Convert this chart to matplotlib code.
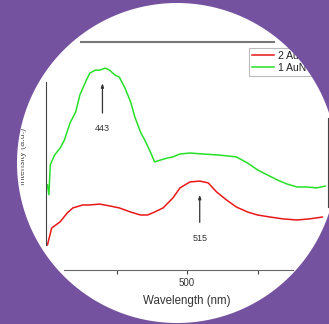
import numpy as np
import matplotlib
matplotlib.use("Agg")
import matplotlib.pyplot as plt
from matplotlib.path import Path
from matplotlib.patches import PathPatch
from matplotlib.transforms import Bbox, TransformedBbox

plt.rcParams['font.family'] = ['Liberation Sans', 'DejaVu Sans']

# spectra (wavelength in nm, intensity in a.u.)
green_nm = [401, 402, 403, 406, 410, 413, 417, 421, 424, 428, 431, 435, 438,
            442, 445, 449, 452, 456, 460, 463, 467, 470, 474, 477, 481, 486,
            490, 495, 502, 511, 523, 535, 543, 550, 557, 564, 571, 578, 585,
            592, 598]
green_int = [0.373, 0.330, 0.461, 0.504, 0.535, 0.570, 0.645, 0.693, 0.768,
             0.825, 0.864, 0.877, 0.877, 0.886, 0.877, 0.855, 0.846, 0.798,
             0.737, 0.671, 0.605, 0.570, 0.518, 0.474, 0.482, 0.491, 0.496,
             0.509, 0.513, 0.509, 0.504, 0.496, 0.469, 0.439, 0.417, 0.395,
             0.377, 0.364, 0.364, 0.360, 0.368]

red_nm = [401, 404, 410, 415, 419, 426, 431, 438, 445, 452, 460, 467, 472,
          477, 483, 490, 495, 502, 509, 515, 521, 528, 535, 543, 550, 559,
          568, 578, 587, 596]
red_int = [0.110, 0.184, 0.211, 0.250, 0.272, 0.285, 0.285, 0.289, 0.281,
           0.272, 0.254, 0.241, 0.241, 0.254, 0.272, 0.316, 0.360, 0.386,
           0.390, 0.382, 0.342, 0.307, 0.276, 0.254, 0.241, 0.232, 0.224,
           0.219, 0.224, 0.232]

series_labels = ["2 AuNCs", "1 AuNCs"]

# peak markers: label text, arrow x, arrow tip, text position
peak_labels = ["443", "515"]
peak_x = [440, 509]
peak_tip = [0.82, 0.33]
peak_text_y = [0.62, 0.14]

xticks_major = [500]
xticks_minor = [450, 550]

fig = plt.figure(figsize=(3.29, 3.24), dpi=100, facecolor='white')
ax = fig.add_axes([0.140, 0.167, 0.857, 0.703])
ax.set_facecolor('white')

ax.plot(red_nm, red_int, color='#e81818', lw=1.1, label=series_labels[0])
ax.plot(green_nm, green_int, color='#25e025', lw=1.1, label=series_labels[1])

ax.set_xlim(400, 600)
ax.set_ylim(0, 1)

# broken frame as in the picture
ax.spines['top'].set_bounds(425, 562)
ax.spines['top'].set_color('#777777')
ax.spines['top'].set_linewidth(1.5)
ax.spines['bottom'].set_bounds(413, 575)
ax.spines['bottom'].set_color('#666666')
ax.spines['left'].set_bounds(0.11, 0.825)
ax.spines['left'].set_color('#444444')
ax.spines['right'].set_bounds(0.276, 0.667)
ax.spines['right'].set_color('#444444')

ax.set_xticks(xticks_major)
ax.set_xticks(xticks_minor, minor=True)
ax.tick_params(axis='x', which='both', direction='out', length=3, width=0.8,
               colors='#444444', labelsize=7, pad=3, labelcolor='#333333')
ax.set_yticks([])
ax.set_xlabel('Wavelength (nm)', fontsize=8.3, color='#333333', labelpad=5)

# y label, only its edge shows in the picture
ylab = ax.text(-0.082, 0.5, 'Intensity (a.u.)', transform=ax.transAxes,
               rotation=90, ha='center', va='center', fontsize=6.5,
               color='#555555')
ylab.set_clip_box(TransformedBbox(Bbox([[0.213, 0.0], [0.40, 3.24]]),
                                  fig.dpi_scale_trans))
ylab.set_clip_on(True)

for lab, x, tip, ty in zip(peak_labels, peak_x, peak_tip, peak_text_y):
    ax.annotate(lab, xy=(x, tip), xytext=(x, ty), ha='center', va='center',
                fontsize=6.5, color='#333333',
                arrowprops=dict(arrowstyle='-|>,head_length=0.35,head_width=0.12',
                                color='#333333', lw=0.9, shrinkA=6, shrinkB=0))

leg = ax.legend(loc='upper left', bbox_to_anchor=(0.72, 0.975), fontsize=7.5,
                frameon=True, fancybox=False, handlelength=2.1,
                handletextpad=0.35, borderpad=0.3, labelspacing=0.2,
                borderaxespad=0)
leg.get_frame().set_edgecolor('#aaaaaa')
leg.get_frame().set_linewidth(0.8)
for t in leg.get_texts():
    t.set_color('#222222')

# purple surround with a round window
W, H = 3.29, 3.24
cx, cy, r = 1.77, H - 1.63, 1.60
th = np.linspace(0, 2 * np.pi, 400)
ring = np.column_stack([cx + r * np.cos(th), cy + r * np.sin(th)])
outer = np.array([[-0.1, -0.1], [-0.1, H + 0.1], [W + 0.1, H + 0.1],
                  [W + 0.1, -0.1], [-0.1, -0.1]])
verts = np.vstack([outer, ring])
codes = ([Path.MOVETO] + [Path.LINETO] * 3 + [Path.CLOSEPOLY] +
         [Path.MOVETO] + [Path.LINETO] * (len(ring) - 2) + [Path.CLOSEPOLY])
mask = PathPatch(Path(verts, codes), facecolor='#7552a0', edgecolor='none',
                 transform=fig.dpi_scale_trans, zorder=10)
fig.patches.append(mask)

fig.savefig('out.png', dpi=100, facecolor='white')
